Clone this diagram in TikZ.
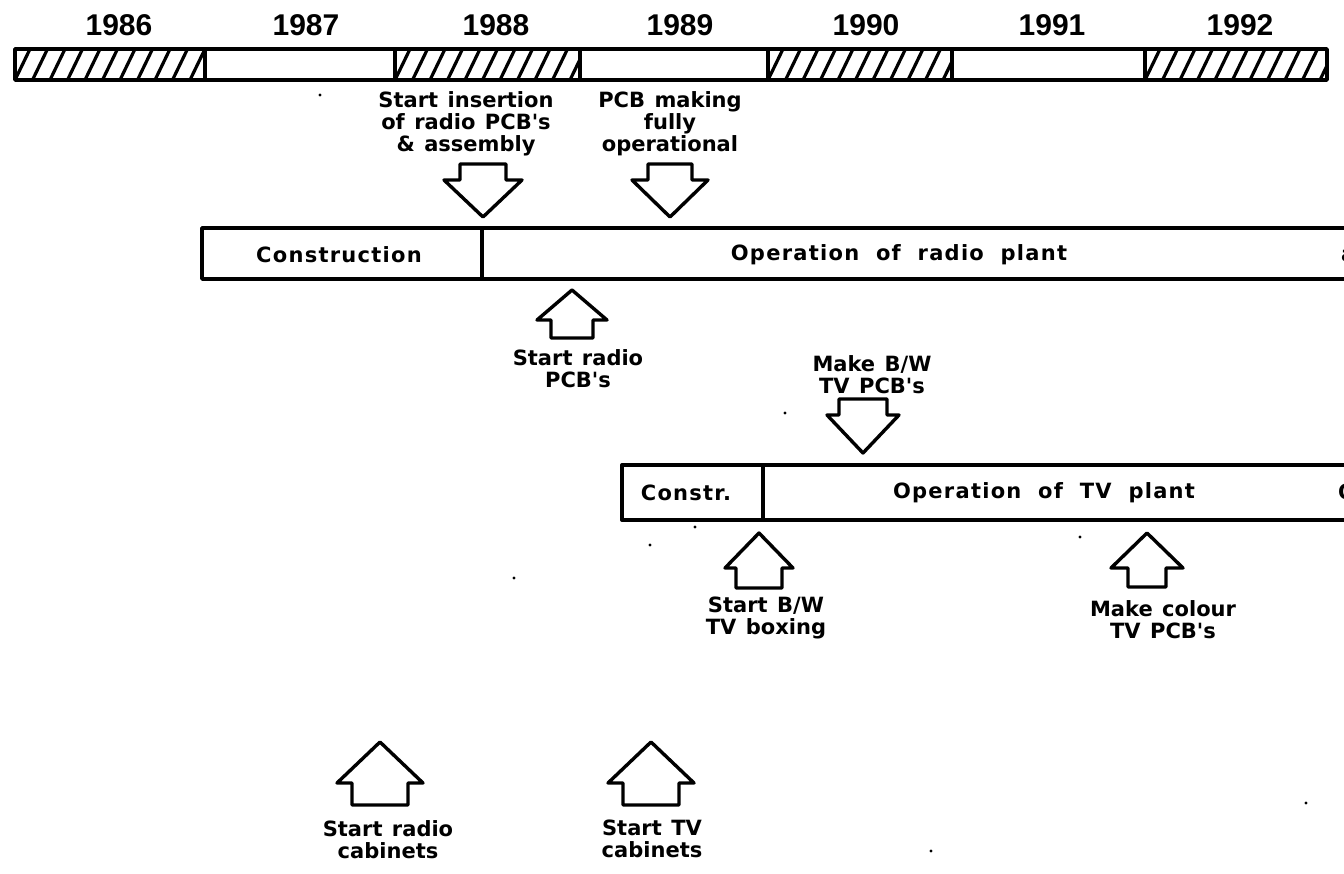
\documentclass[tikz,border=0pt]{standalone}
\usepackage{fontspec}
\newfontfamily\yearfont{Liberation Sans}
\newfontfamily\labfont{DejaVu Sans}
\newfontfamily\boxfont[LetterSpace=6]{DejaVu Sans}
\usetikzlibrary{calc}

% text faces: labels with somewhat wide word gaps
\newcommand\yearface{\yearfont\bfseries\fontsize{30}{32}\selectfont}
\newcommand\labface{\labfont\bfseries\fontsize{21}{22}\selectfont\spaceskip 0.45em\relax}
\newcommand\boxface{\boxfont\bfseries\fontsize{21}{21}\selectfont\spaceskip 0.8em\relax}

% outlined block arrow: tip, head half width, head length, shaft half width, shaft length
% (positive lengths point the arrow up, negative ones point it down)
\newcommand\blockarrow[5]{%
  \draw[barrow] (#1) -- ++(#2,#3) -- ++({#4-#2},0) -- ++(0,#5)
    -- ++({-2*#4},0) -- ++(0,{-(#5)}) -- ++({#4-#2},0) -- cycle;}

\tikzset{
  year/.style={font=\yearface, inner sep=0},
  lab/.style={font=\labface, align=center, inner sep=0},
  boxtext/.style={font=\boxface, inner sep=0},
  frame/.style={line width=3.4pt, line cap=round, line join=round},
  barrow/.style={draw, fill=white, line width=3.4pt, line join=round},
  hatch/.style={line width=3.2pt},
  speck/.style={fill=black},
}

\begin{document}
\begin{tikzpicture}[x=1pt, y=-1pt]
  \useasboundingbox (0,0) rectangle (1344,873);
  \fill[white] (0,0) rectangle (1344,873);
  \clip (0,0) rectangle (1344,873);

  % ---- year scale ----
  \foreach \xa/\xb/\yr/\xc/\h in {15/205/1986/119/1, 205/395/1987/306/0, 395/580/1988/496/1,
                                  580/768/1989/680/0, 768/952/1990/866/1, 952/1145/1991/1052/0,
                                  1145/1327/1992/1240/1} {
    \ifnum\h=1
      \begin{scope}
        \clip (\xa,49) rectangle (\xb,80);
        \foreach \k in {-2,...,12}
          \draw[hatch] ({\xa+\k*17.5},80) -- ++(15,-31);
      \end{scope}
    \fi
    \draw[frame] (\xa,49) rectangle (\xb,80);
    \node[year] (y\yr) at (\xc,25) {\yr};
  }

  % ---- radio plant bar ----
  \draw[frame] (1360,228) -- (202,228) -- (202,279) -- (1360,279);
  \draw[frame] (482,228) -- (482,279);
  \node[boxtext] (rconstr) at (339,255) {Construction};
  \node[boxtext] (rop) at (899,255) {Operation of radio plant};
  \node[boxtext, anchor=west] (rmore) at (1341,256) {a};

  % ---- TV plant bar ----
  \draw[frame] (1360,465) -- (622,465) -- (622,520) -- (1360,520);
  \draw[frame] (763,465) -- (763,520);
  \node[boxtext] (tconstr) at (686,493) {Constr.};
  \node[boxtext] (top) at (1044,493) {Operation of TV plant};
  \node[boxtext, anchor=west] (tmore) at (1338,492) {O};

  % ---- milestones above the bars (arrows down) ----
  \node[lab, anchor=north] (m1) at (466,91) {Start insertion\\of radio PCB's\\\& assembly};
  \coordinate (m1tip) at (483,217);
  \blockarrow{m1tip}{39}{-37}{23}{-16}

  \node[lab, anchor=north] (m2) at (670,91) {PCB making\\fully\\operational};
  \coordinate (m2tip) at (670,217);
  \blockarrow{m2tip}{38}{-37}{22}{-16}

  \node[lab, anchor=north] (m3) at (872,355) {Make B/W\\TV PCB's};
  \coordinate (m3tip) at (863,453);
  \blockarrow{m3tip}{36}{-38}{24}{-16}

  % ---- milestones below the bars (arrows up) ----
  \coordinate (m4tip) at (572,290);
  \blockarrow{m4tip}{35}{30}{21}{18}
  \node[lab, anchor=north] (m4) at (578,349) {Start radio\\PCB's};

  \coordinate (m5tip) at (759,533);
  \blockarrow{m5tip}{34}{35}{23}{20}
  \node[lab, anchor=north] (m5) at (766,597) {Start B/W\\TV boxing};

  \coordinate (m6tip) at (1147,533);
  \blockarrow{m6tip}{36}{35}{19}{19}
  \node[lab, anchor=north] (m6) at (1163,600) {Make colour\\TV PCB's};

  \coordinate (m7tip) at (380,742);
  \blockarrow{m7tip}{43}{41}{28}{22}
  \node[lab, anchor=north] (m7) at (388,820) {Start radio\\cabinets};

  \coordinate (m8tip) at (651,742);
  \blockarrow{m8tip}{43}{41}{28}{22}
  \node[lab, anchor=north] (m8) at (652,820) {Start TV\\cabinets};

  % ---- loose specks ----
  \foreach \p in {(320,95),(785,413),(695,527),(650,545),(1080,537),(514,578),(1306,803),(931,851)}
    \fill[speck] \p circle (1.6);
\end{tikzpicture}
\end{document}
